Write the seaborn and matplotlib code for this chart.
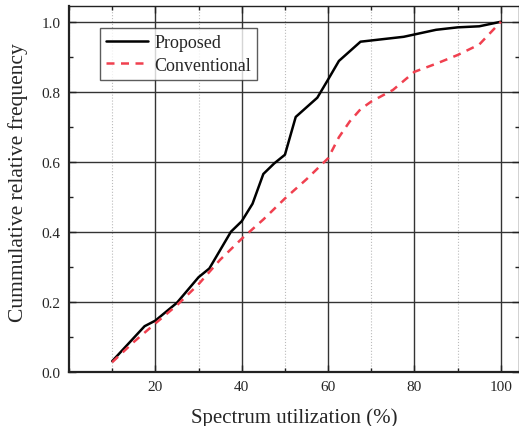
import numpy as np
import pandas as pd
import matplotlib
matplotlib.use("Agg")
import matplotlib.pyplot as plt
import seaborn as sns
from matplotlib.ticker import MultipleLocator

# Data
proposed_x = [10, 17.5, 20, 25, 30, 32.5, 37.5, 40, 42.5, 45, 47.5, 50, 52.5,
              57.5, 60, 62.5, 67.5, 77.5, 85, 90, 95, 100]
proposed_y = [0.03, 0.13, 0.146, 0.197, 0.27, 0.295, 0.40, 0.43, 0.48, 0.565,
              0.595, 0.62, 0.728, 0.783, 0.835, 0.888, 0.943, 0.957, 0.977,
              0.984, 0.987, 1.0]
conv_x = [10, 15, 20, 25, 30, 35, 40, 45, 50, 55, 60, 62.5, 65, 67.5, 70, 75,
          80, 85, 90, 95, 100]
conv_y = [0.027, 0.085, 0.138, 0.19, 0.25, 0.32, 0.38, 0.435, 0.495, 0.55,
          0.61, 0.67, 0.715, 0.75, 0.772, 0.805, 0.857, 0.88, 0.905, 0.935, 1.0]
series_names = ["Proposed", "Conventional"]
x_ticks = [20, 40, 60, 80, 100]
y_ticks = [0.0, 0.2, 0.4, 0.6, 0.8, 1.0]

df = pd.concat([
    pd.DataFrame({"x": proposed_x, "y": proposed_y, "series": series_names[0]}),
    pd.DataFrame({"x": conv_x, "y": conv_y, "series": series_names[1]}),
], ignore_index=True)

sns.set_style("ticks")
plt.rcParams["font.family"] = ["Liberation Serif", "DejaVu Serif"]
plt.rcParams["mathtext.fontset"] = "stix"

fig = plt.figure(figsize=(5.19, 4.27), dpi=100)
ax = fig.add_axes([69 / 519, (427 - 372.7) / 427, (519 - 69) / 519, (372.7 - 7) / 427])

sns.lineplot(data=df, x="x", y="y", hue="series", style="series",
             palette={"Proposed": "black", "Conventional": "#f0404f"},
             dashes={"Proposed": "", "Conventional": (3.2, 2.6)},
             linewidth=1.8, ax=ax, sort=False, estimator=None)

ax.set_xlim(0, 104.2)
ax.set_ylim(0, 1.045)
ax.set_xticks(x_ticks)
ax.set_yticks(y_ticks)
ax.set_yticklabels([f"{v:.1f}" for v in y_ticks])
ax.xaxis.set_minor_locator(MultipleLocator(10))
ax.yaxis.set_minor_locator(MultipleLocator(0.1))

ax.grid(which="major", axis="both", color="#333333", linewidth=1.0)
ax.grid(which="minor", axis="x", color="#bbbbbb", linewidth=0.8, linestyle=":")
ax.set_axisbelow(True)

ax.tick_params(which="both", direction="in", top=True, right=True,
               labelsize=11, pad=6, color="#222222")
ax.tick_params(which="major", length=5, width=1.0)
ax.tick_params(which="minor", length=3, width=1.0)
for s in ["left", "bottom"]:
    ax.spines[s].set_linewidth(1.6)
    ax.spines[s].set_color("#222222")
for s in ["top", "right"]:
    ax.spines[s].set_linewidth(1.0)
    ax.spines[s].set_color("#222222")

ax.set_xlabel("Spectrum utilization (%)", fontsize=15, labelpad=10)
ax.set_ylabel("Cummulative relative frequency", fontsize=15.5, labelpad=9)
ax.yaxis.set_label_coords(-0.09, 0.52)

leg = ax.legend(title=None, loc="upper left", bbox_to_anchor=(0.069, 0.94),
                fontsize=13, frameon=True, fancybox=False, edgecolor="#333333",
                handlelength=2.3, handletextpad=0.35, borderpad=0.35,
                labelspacing=0.3, borderaxespad=0)
leg.get_frame().set_linewidth(1.0)

fig.savefig("out.png", dpi=100)
